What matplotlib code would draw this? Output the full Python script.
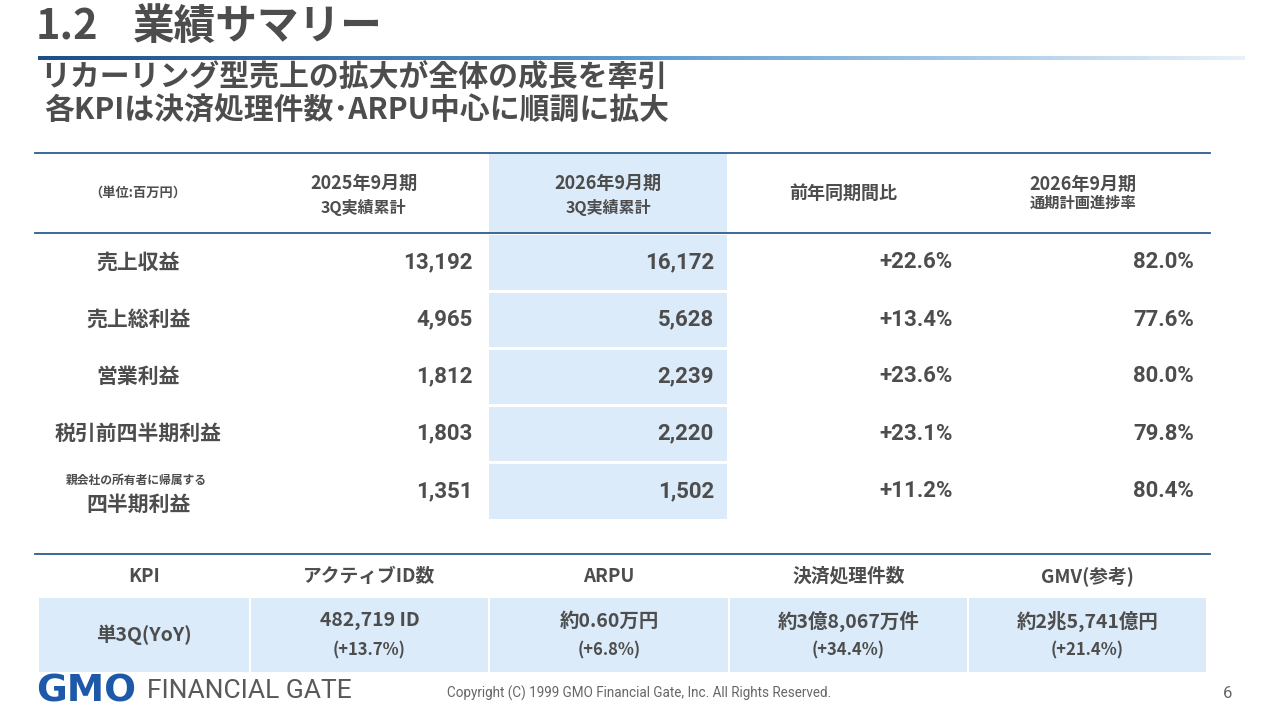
import numpy as np
import matplotlib.pyplot as plt
from matplotlib.colors import LinearSegmentedColormap
from matplotlib.patches import Rectangle

plt.rcParams['font.family'] = ['Noto Sans CJK JP', 'DejaVu Sans']

# 業績サマリー（単位:百万円）
row_labels = ['売上収益', '売上総利益', '営業利益', '税引前四半期利益', '四半期利益']
fy2025_3q = [13192, 4965, 1812, 1803, 1351]
fy2026_3q = [16172, 5628, 2239, 2220, 1502]
yoy_pct = [22.6, 13.4, 23.6, 23.1, 11.2]
progress_pct = [82.0, 77.6, 80.0, 79.8, 80.4]

# KPI
kpi_names = ['アクティブID数', 'ARPU', '決済処理件数', 'GMV(参考)']
kpi_values = ['482,719 ID', '約0.60万円', '約3億8,067万件', '約2兆5,741億円']
kpi_yoy = [13.7, 6.8, 34.4, 21.4]

TXT = '#4d4d4d'
LINE = '#2c5d8c'
HILITE = '#dbebfa'
NUM_FONT = ['Roboto', 'Noto Sans CJK JP']

fig = plt.figure(figsize=(12.8, 7.2), dpi=100)
ax = fig.add_axes([0, 0, 1, 1])

# タイトル
ax.text(36, 28, '1.2', fontsize=30, fontweight='bold', color=TXT, va='center', ha='left')
ax.text(133, 28, '業績サマリー', fontsize=30, fontweight='bold', color=TXT,
        va='center', ha='left')

# グラデーションの線
grad = LinearSegmentedColormap.from_list('g', ['#1b4f86', '#5c9bd0', '#e8f1f9'])
ax.imshow(np.linspace(0, 1, 256).reshape(1, -1), cmap=grad, aspect='auto',
          extent=(38, 1245, 60, 56), zorder=1)
ax.set_xlim(0, 1280)
ax.set_ylim(720, 0)
ax.axis('off')

ax.text(40, 78, 'リカーリング型売上の拡大が全体の成長を牽引', fontsize=21.5,
        fontweight='bold', color=TXT, va='center', ha='left')
ax.text(44, 111, '各KPIは決済処理件数･ARPU中心に順調に拡大', fontsize=21.5,
        fontweight='bold', color=TXT, va='center', ha='left')

# 表の列と行
col_edges = [35, 250, 489, 727, 968, 1210]
row_edges = [233, 291, 348, 405, 462, 520]
row_centers = [(row_edges[i] + row_edges[i + 1]) / 2 + 2 for i in range(5)]

# ハイライト列
ax.add_patch(Rectangle((col_edges[2], 153), col_edges[3] - col_edges[2], 80,
                       color=HILITE, lw=0, zorder=0))
for i in range(5):
    ax.add_patch(Rectangle((col_edges[2], row_edges[i] + 1.5), col_edges[3] - col_edges[2],
                           row_edges[i + 1] - row_edges[i] - 3, color=HILITE, lw=0, zorder=0))

ax.plot([35, 1210], [153, 153], color=LINE, lw=1.3)
ax.plot([35, 1210], [233, 233], color=LINE, lw=1.3)

# ヘッダー
hc = [(col_edges[i] + col_edges[i + 1]) / 2 for i in range(5)]
ax.text(hc[0] - 5, 193, '（単位:百万円）', fontsize=9.5, fontweight='bold', color=TXT,
        ha='center', va='center')
ax.text(hc[1] - 6, 183, '2025年9月期', fontsize=13, fontweight='bold', color=TXT,
        ha='center', va='center')
ax.text(hc[1] - 6, 208, '3Q実績累計', fontsize=11.5, fontweight='bold', color=TXT,
        ha='center', va='center')
ax.text(hc[2], 183, '2026年9月期', fontsize=13, fontweight='bold', color=TXT,
        ha='center', va='center')
ax.text(hc[2], 208, '3Q実績累計', fontsize=11.5, fontweight='bold', color=TXT,
        ha='center', va='center')
ax.text(hc[3] - 4, 193, '前年同期間比', fontsize=13, fontweight='bold', color=TXT,
        ha='center', va='center')
ax.text(hc[4] - 6, 184, '2026年9月期', fontsize=13, fontweight='bold', color=TXT,
        ha='center', va='center')
ax.text(hc[4] - 6, 203, '通期計画進捗率', fontsize=11, fontweight='bold', color=TXT,
        ha='center', va='center')

# 行
for i, lab in enumerate(row_labels):
    y = row_centers[i]
    if i == 4:
        ax.text(hc[0] - 6, y - 13, '親会社の所有者に帰属する', fontsize=8.5, fontweight='bold',
                color=TXT, ha='center', va='center')
        ax.text(hc[0] - 4, y + 11, lab, fontsize=15, fontweight='bold', color=TXT,
                ha='center', va='center')
    else:
        ax.text(hc[0] - 4, y - 2, lab, fontsize=15, fontweight='bold', color=TXT,
                ha='center', va='center')
    ax.text(col_edges[2] - 16, y - 2, f'{fy2025_3q[i]:,}', fontsize=16, fontweight='bold',
            color=TXT, ha='right', va='center', family=NUM_FONT)
    ax.text(col_edges[3] - 13, y - 2, f'{fy2026_3q[i]:,}', fontsize=16, fontweight='bold',
            color=TXT, ha='right', va='center', family=NUM_FONT)
    ax.text(col_edges[4] - 15, y - 2, f'+{yoy_pct[i]:.1f}%', fontsize=16, fontweight='bold',
            color=TXT, ha='right', va='center', family=NUM_FONT)
    ax.text(col_edges[5] - 16, y - 2, f'{progress_pct[i]:.1f}%', fontsize=16, fontweight='bold',
            color=TXT, ha='right', va='center', family=NUM_FONT)

# KPI表
kpi_edges = [38, 250, 489, 729, 968, 1207]
kc = [(kpi_edges[i] + kpi_edges[i + 1]) / 2 for i in range(5)]
ax.plot([35, 1210], [554, 554], color=LINE, lw=1.3)
for i in range(5):
    ax.add_patch(Rectangle((kpi_edges[i] + 1, 598), kpi_edges[i + 1] - kpi_edges[i] - 2, 74,
                           color=HILITE, lw=0, zorder=0))

ax.text(kc[0], 576, 'KPI', fontsize=13.5, fontweight='bold', color=TXT, ha='center', va='center')
for i, name in enumerate(kpi_names):
    ax.text(kc[i + 1], 576, name, fontsize=13.5, fontweight='bold', color=TXT,
            ha='center', va='center')
    ax.text(kc[i + 1], 621, kpi_values[i], fontsize=14, fontweight='bold', color=TXT,
            ha='center', va='center')
    ax.text(kc[i + 1], 650, f'(+{kpi_yoy[i]:.1f}%)', fontsize=12, fontweight='bold',
            color=TXT, ha='center', va='center')
ax.text(kc[0], 635, '単3Q(YoY)', fontsize=14, fontweight='bold', color=TXT,
        ha='center', va='center')

# フッター
ax.text(36, 691, 'GMO', fontsize=27, fontweight='heavy', color='#1d59a8',
        ha='left', va='center', family=['DejaVu Sans'])
ax.text(147, 691, 'FINANCIAL GATE', fontsize=19, color='#595959', ha='left', va='center',
        family=['Roboto'])
ax.text(639, 693, 'Copyright (C) 1999 GMO Financial Gate, Inc. All Rights Reserved.',
        fontsize=9.75, color='#666666', ha='center', va='center', family=['Roboto'])
ax.text(1228, 694, '6', fontsize=12, color='#666666', ha='center', va='center',
        family=['Roboto'])

fig.savefig('out.png', dpi=100)
